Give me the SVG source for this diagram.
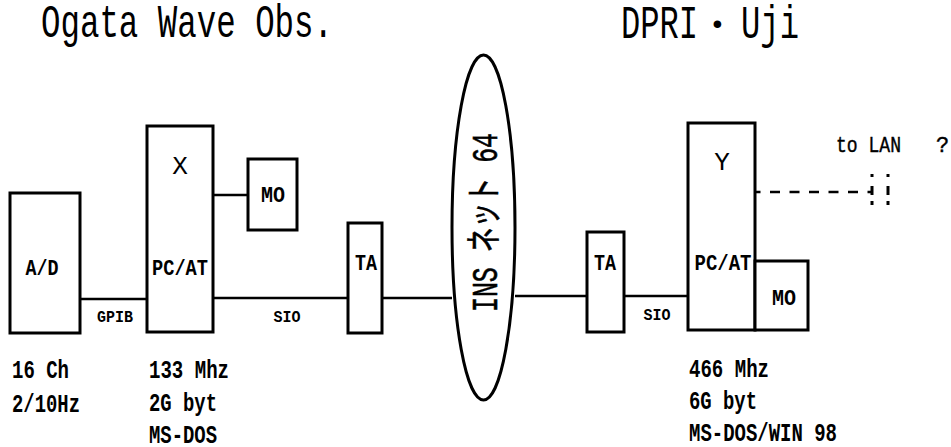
<svg xmlns="http://www.w3.org/2000/svg" width="951" height="447" viewBox="0 0 951 447">
<style>
  .box { fill: #fff; stroke: #000; stroke-width: 3; }
  .ell { fill: none; stroke: #000; stroke-width: 3; }
  .ln { stroke: #000; stroke-width: 2.5; fill: none; }
  .dash { stroke: #000; stroke-width: 2.5; fill: none; stroke-dasharray: 10 9.5; }
  .dot { stroke: #000; stroke-width: 3; fill: none; }
  text { font-family: "Liberation Mono", "Noto Sans CJK JP", monospace; fill: #000; }
  .title { font-size: 46px; font-weight: normal; }
  .lbl { font-size: 22px; font-weight: bold; text-anchor: middle; }
  .big { font-size: 26px; font-weight: normal; text-anchor: middle; }
  .sm { font-size: 17px; font-weight: bold; text-anchor: middle; }
  .info { font-size: 26.5px; font-weight: bold; }
  .lan { font-size: 22px; font-weight: normal; stroke: #000; stroke-width: 0.4; }
  .net { font-size: 36px; font-weight: normal; text-anchor: middle; stroke: #000; stroke-width: 0.6; }
</style>

<g id="titles">
  <text class="title" x="41" y="37" textLength="292" lengthAdjust="spacingAndGlyphs">Ogata Wave Obs.</text>
  <text class="title" y="38"><tspan x="621" textLength="77" lengthAdjust="spacingAndGlyphs">DPRI</tspan><tspan x="709" dy="-5" font-size="28">•</tspan><tspan x="741" dy="5" textLength="58" lengthAdjust="spacingAndGlyphs">Uji</tspan></text>
</g>

<g id="connectors">
  <line class="ln" x1="80" y1="299" x2="147" y2="299"/>
  <line class="ln" x1="213" y1="195" x2="248" y2="195"/>
  <line class="ln" x1="213" y1="298" x2="348" y2="298"/>
  <line class="ln" x1="382" y1="298" x2="452" y2="298"/>
  <line class="ln" x1="515" y1="296" x2="587" y2="296"/>
  <line class="ln" x1="624" y1="296" x2="688" y2="296"/>
  <line class="dash" x1="750.5" y1="192" x2="872" y2="192"/>
  <path class="dot" d="M872 174v3M872 186v9M872 201v4M888 174v3M888 186v9M888 201v4"/>
  <text class="sm" x="115" y="322" textLength="36" lengthAdjust="spacingAndGlyphs">GPIB</text>
  <text class="sm" x="287" y="322" textLength="27" lengthAdjust="spacingAndGlyphs">SIO</text>
  <text class="sm" x="657" y="320" textLength="27" lengthAdjust="spacingAndGlyphs">SIO</text>
  <text class="lan" y="152"><tspan x="836" textLength="65" lengthAdjust="spacingAndGlyphs">to LAN</tspan><tspan x="936">?</tspan></text>
</g>

<g id="ad">
  <rect class="box" x="10" y="193" width="70" height="140"/>
  <text class="lbl" x="42" y="275" textLength="33" lengthAdjust="spacingAndGlyphs">A/D</text>
  <text class="info" x="12" y="378" textLength="57" lengthAdjust="spacingAndGlyphs">16 Ch</text>
  <text class="info" x="12" y="412" textLength="68" lengthAdjust="spacingAndGlyphs">2/10Hz</text>
</g>

<g id="pcX">
  <rect class="box" x="147" y="126" width="66" height="206"/>
  <text class="big" x="180" y="174">X</text>
  <text class="lbl" x="180" y="275" textLength="56" lengthAdjust="spacingAndGlyphs">PC/AT</text>
  <text class="info" x="149" y="378" textLength="80" lengthAdjust="spacingAndGlyphs">133 Mhz</text>
  <text class="info" x="149" y="411" textLength="68" lengthAdjust="spacingAndGlyphs">2G byt</text>
  <text class="info" x="149" y="443" textLength="68" lengthAdjust="spacingAndGlyphs">MS-DOS</text>
</g>

<g id="moX">
  <rect class="box" x="248" y="159" width="49" height="71"/>
  <text class="lbl" x="273" y="202" textLength="24" lengthAdjust="spacingAndGlyphs">MO</text>
</g>

<g id="taLeft">
  <rect class="box" x="348" y="223" width="34" height="110"/>
  <text class="lbl" x="366" y="270" textLength="22" lengthAdjust="spacingAndGlyphs">TA</text>
</g>

<g id="ins">
  <ellipse class="ell" cx="483.5" cy="227.5" rx="31.5" ry="172.5"/>
  <text class="net" x="497" y="222.5" transform="rotate(-90 497 222.5)" textLength="179" lengthAdjust="spacingAndGlyphs">INS ネット 64</text>
</g>

<g id="taRight">
  <rect class="box" x="587" y="232" width="37" height="100"/>
  <text class="lbl" x="605" y="270" textLength="22" lengthAdjust="spacingAndGlyphs">TA</text>
</g>

<g id="pcY">
  <rect class="box" x="688" y="123" width="67" height="207"/>
  <text class="big" x="722" y="170">Y</text>
  <text class="lbl" x="723" y="270" textLength="57" lengthAdjust="spacingAndGlyphs">PC/AT</text>
  <text class="info" x="689" y="377" textLength="80" lengthAdjust="spacingAndGlyphs">466 Mhz</text>
  <text class="info" x="689" y="409" textLength="68" lengthAdjust="spacingAndGlyphs">6G byt</text>
  <text class="info" x="689" y="441" textLength="148" lengthAdjust="spacingAndGlyphs">MS-DOS/WIN 98</text>
</g>

<g id="moY">
  <rect class="box" x="755" y="261" width="53" height="69"/>
  <text class="lbl" x="784" y="305" textLength="24" lengthAdjust="spacingAndGlyphs">MO</text>
</g>
</svg>
